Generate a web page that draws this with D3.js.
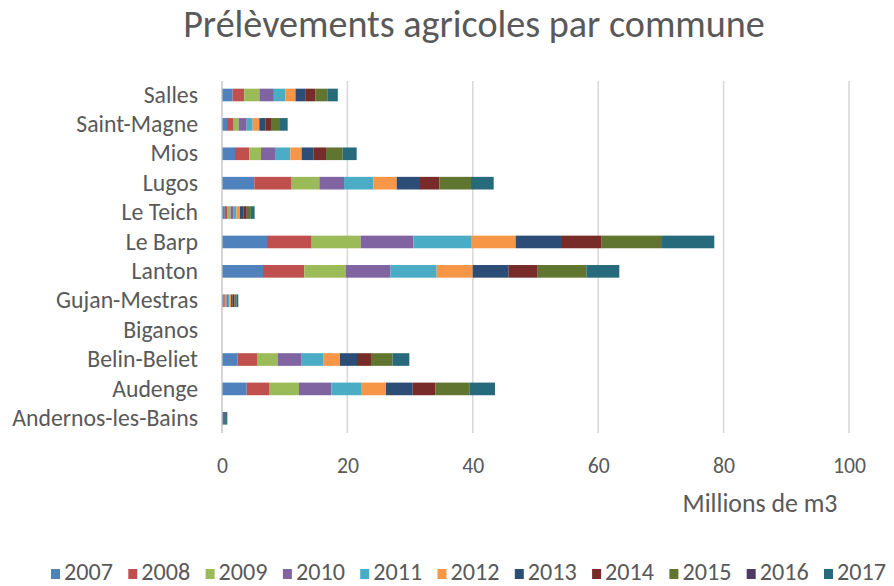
<!DOCTYPE html>
<html>
<head>
<meta charset="utf-8">
<script src="https://cdn.jsdelivr.net/npm/d3@7"></script>
<style>
  html, body { margin: 0; padding: 0; background: #fff; }
  svg { display: block; font-family: Carlito, Lato, "Open Sans", sans-serif; }
</style>
</head>
<body>
<svg id="chart" width="894" height="586"></svg>
<script>
// ---------- DATA ----------
const communes = ["Salles", "Saint-Magne", "Mios", "Lugos", "Le Teich", "Le Barp", "Lanton",
  "Gujan-Mestras", "Biganos", "Belin-Beliet", "Audenge", "Andernos-les-Bains"];
const years = ["2007", "2008", "2009", "2010", "2011", "2012", "2013", "2014", "2015", "2016", "2017"];
const v2007 = [1.70, 0.80, 2.07, 5.15, 0.45, 7.18, 6.54, 0.20, 0, 2.50, 3.93, 0];
const v2008 = [1.87, 1.06, 2.29, 5.96, 0.45, 7.12, 6.59, 0.25, 0, 3.08, 3.67, 0];
const v2009 = [2.40, 0.80, 1.86, 4.41, 0.45, 7.82, 6.59, 0.25, 0, 3.30, 4.68, 0];
const v2010 = [2.30, 1.27, 2.23, 3.94, 0.50, 8.39, 7.13, 0.25, 0, 3.83, 5.16, 0.20];
const v2011 = [1.85, 0.96, 2.45, 4.67, 0.45, 9.20, 7.39, 0.25, 0, 3.50, 4.73, 0];
const v2012 = [1.60, 1.06, 1.80, 3.73, 0.55, 7.13, 5.74, 0.25, 0, 2.61, 3.99, 0];
const v2013 = [1.55, 0.96, 1.86, 3.72, 0.55, 7.23, 5.69, 0.25, 0, 2.71, 4.25, 0.25];
const v2014 = [1.60, 0.90, 2.03, 3.08, 0.55, 6.48, 4.68, 0.30, 0, 2.23, 3.61, 0];
const v2015 = [2.00, 1.44, 2.66, 5.05, 0.65, 9.63, 7.76, 0.30, 0, 3.46, 5.43, 0.20];
const v2016 = [0, 0, 0, 0, 0, 0, 0, 0, 0, 0, 0, 0];
const v2017 = [1.60, 1.22, 2.23, 3.62, 0.60, 8.34, 5.26, 0.30, 0, 2.66, 4.09, 0.20];
const xTicks = [0, 20, 40, 60, 80, 100];
const titleText = "Prélèvements agricoles par commune";
const xAxisTitle = "Millions de m3";
const colors = ["#4F81BD", "#C0504D", "#9BBB59", "#8064A2", "#4BACC6", "#F79646",
  "#2C4D75", "#772C2A", "#5F7530", "#4D3B62", "#276A7C"];

// ---------- BUILD TABLE ----------
const seriesArrays = [v2007, v2008, v2009, v2010, v2011, v2012, v2013, v2014, v2015, v2016, v2017];
const table = communes.map((c, i) => {
  const row = { commune: c };
  years.forEach((y, k) => { row[y] = seriesArrays[k][i]; });
  return row;
});
const stacked = d3.stack().keys(years)(table);

const svg = d3.select("#chart");
const textColor = "#595959";

// fit helper: scale a text's font size so its width matches a target
function fitSize(sample, base, target) {
  const t = svg.append("text").attr("font-size", base).text(sample);
  const w = t.node().getComputedTextLength();
  t.remove();
  return base * target / w;
}

const x = d3.scaleLinear().domain([0, 100]).range([222, 849]);
const y = d3.scaleBand().domain(communes).range([80.3, 433])
  .paddingInner(0.57).paddingOuter(0.285);
const color = d3.scaleOrdinal().domain(years).range(colors);

// gridlines
svg.append("g").selectAll("line").data(xTicks.filter(t => t > 0)).join("line")
  .attr("x1", d => x(d)).attr("x2", d => x(d))
  .attr("y1", 81).attr("y2", 433)
  .attr("stroke", "#d9d9d9").attr("stroke-width", 1.6);

// bars
svg.append("g").selectAll("g").data(stacked).join("g")
  .attr("fill", d => color(d.key))
  .selectAll("rect").data(d => d).join("rect")
  .attr("x", d => x(d[0]))
  .attr("width", d => Math.max(0, x(d[1]) - x(d[0])))
  .attr("y", d => y(d.data.commune))
  .attr("height", y.bandwidth());

// vertical axis line
svg.append("line").attr("x1", x(0)).attr("x2", x(0)).attr("y1", 81).attr("y2", 433)
  .attr("stroke", "#bfbfbf").attr("stroke-width", 1.3);

// y labels
const ySize = fitSize("Andernos-les-Bains", 20, 186);
const yAxis = d3.axisLeft(y).tickSize(0).tickPadding(0);
const yg = svg.append("g").attr("transform", "translate(198,0)").call(yAxis)
  .attr("font-family", null).attr("font-size", ySize);
yg.select(".domain").remove();
yg.selectAll("text").attr("fill", textColor);

// x tick labels
const xSize = fitSize("100", 20, 33);
const xAxis = d3.axisBottom(x).tickValues(xTicks).tickSize(0).tickPadding(0);
const xg = svg.append("g").attr("transform", "translate(0,458)").call(xAxis)
  .attr("font-family", null).attr("font-size", xSize);
xg.select(".domain").remove();
xg.selectAll("text").attr("fill", textColor);

// axis title
svg.append("text").attr("x", 760).attr("y", 512).attr("text-anchor", "middle")
  .attr("font-size", fitSize(xAxisTitle, 20, 155)).attr("fill", textColor).text(xAxisTitle);

// chart title
svg.append("text").attr("x", 474).attr("y", 37).attr("text-anchor", "middle")
  .attr("font-size", fitSize(titleText, 28, 582)).attr("fill", textColor).text(titleText);

// legend
const legSize = fitSize("2007", 20, 49);
const leg = svg.append("g").selectAll("g").data(years).join("g")
  .attr("transform", (d, i) => `translate(${51 + i * 77.3},0)`);
leg.append("rect").attr("x", 0).attr("y", 569).attr("width", 9).attr("height", 10)
  .attr("fill", d => color(d));
leg.append("text").attr("x", 13).attr("y", 580).attr("font-size", legSize)
  .attr("fill", textColor).text(d => d);
</script>
</body>
</html>
